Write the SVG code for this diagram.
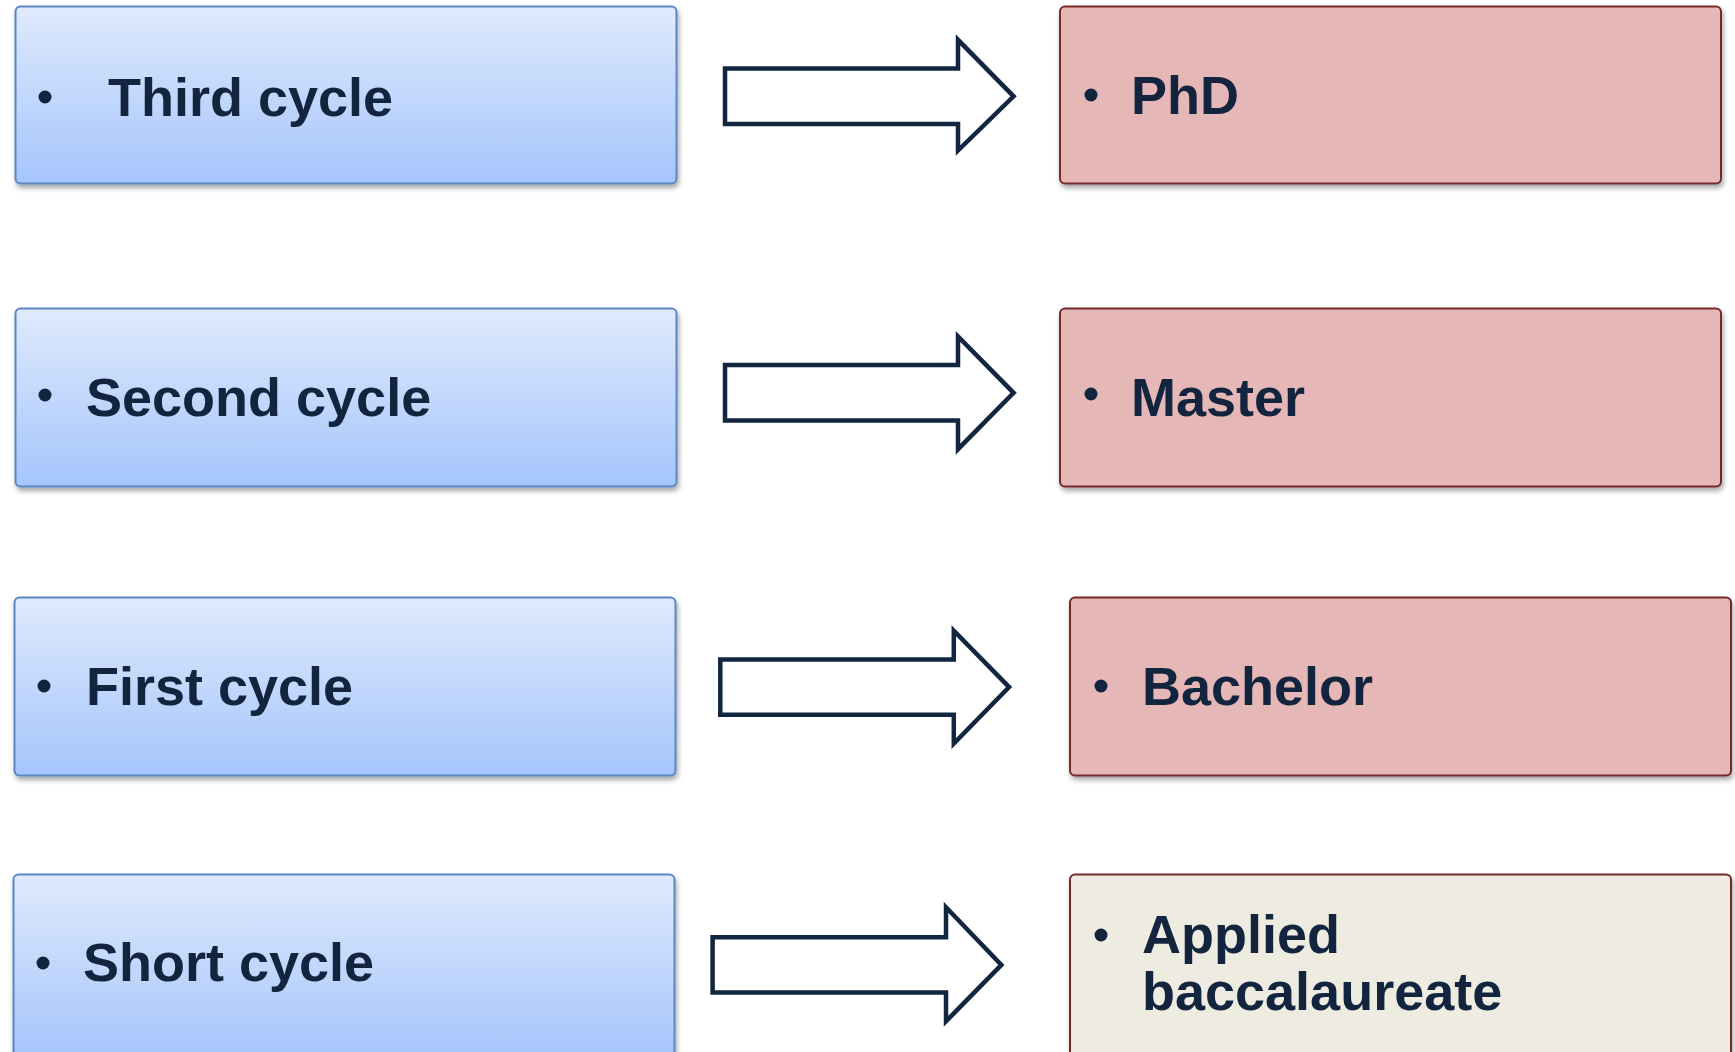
<svg xmlns="http://www.w3.org/2000/svg" width="1735" height="1052" viewBox="0 0 1735 1052">
<defs>
<linearGradient id="blueGrad" x1="0" y1="0" x2="0" y2="1">
<stop offset="0" stop-color="#dfeafd"/>
<stop offset="1" stop-color="#a5c5fb"/>
</linearGradient>
<filter id="shadow" x="-5%" y="-5%" width="110%" height="120%">
<feDropShadow dx="1.5" dy="3.5" stdDeviation="2.5" flood-color="#000" flood-opacity="0.35"/>
</filter>
</defs>
<style>
.lbox{fill:url(#blueGrad);stroke:#5a86c2;stroke-width:2;filter:url(#shadow)}
.rbox{fill:#e6b7b7;stroke:#74292b;stroke-width:2;filter:url(#shadow)}
.rbox2{fill:#eeebe0;stroke:#74292b;stroke-width:2;filter:url(#shadow)}
.t{font-family:"Liberation Sans",Arial,sans-serif;font-weight:bold;font-size:54px;fill:#13243f}
.b{fill:#13243f}
.arrow{fill:#ffffff;stroke:#13263f;stroke-width:4.5;stroke-linejoin:miter}
</style>
<rect width="1735" height="1052" fill="#ffffff"/>
<g id="third-cycle">
<rect class="lbox" x="15.5" y="6.5" width="661" height="177" rx="5"/>
<circle class="b" cx="45" cy="97" r="6.5"/>
<text class="t" x="108" y="116">Third cycle</text>
</g>
<g id="second-cycle">
<rect class="lbox" x="15.5" y="308.5" width="661" height="178" rx="5"/>
<circle class="b" cx="45" cy="395" r="6.5"/>
<text class="t" x="86" y="416">Second cycle</text>
</g>
<g id="first-cycle">
<rect class="lbox" x="14.5" y="597.5" width="661" height="178" rx="5"/>
<circle class="b" cx="44" cy="686" r="6.5"/>
<text class="t" x="86" y="705">First cycle</text>
</g>
<g id="short-cycle">
<rect class="lbox" x="13.5" y="874.5" width="661" height="182" rx="5"/>
<circle class="b" cx="43" cy="963" r="6.5"/>
<text class="t" x="83" y="981">Short cycle</text>
</g>
<g id="phd">
<rect class="rbox" x="1060" y="6.5" width="661" height="177" rx="5"/>
<circle class="b" cx="1091" cy="95" r="6.5"/>
<text class="t" x="1131" y="114">PhD</text>
</g>
<g id="master">
<rect class="rbox" x="1060" y="308.5" width="661" height="178" rx="5"/>
<circle class="b" cx="1091" cy="394" r="6.5"/>
<text class="t" x="1131" y="416">Master</text>
</g>
<g id="bachelor">
<rect class="rbox" x="1070" y="597.5" width="661" height="178" rx="5"/>
<circle class="b" cx="1101" cy="686" r="6.5"/>
<text class="t" x="1142" y="705">Bachelor</text>
</g>
<g id="applied-baccalaureate">
<rect class="rbox2" x="1070" y="874.5" width="661" height="182" rx="5"/>
<circle class="b" cx="1101" cy="935" r="6.5"/>
<text class="t" x="1142" y="953">Applied</text>
<text class="t" x="1142" y="1010">baccalaureate</text>
</g>
<g id="connectors">
<polygon class="arrow" points="725,68.6 958,68.6 958,39.8 1013.6,96.3 958,150.5 958,124 725,124"/>
<polygon class="arrow" points="725,365 958,365 958,336.4 1013.6,392.8 958,449.2 958,420.5 725,420.5"/>
<polygon class="arrow" points="720.3,659.5 953.8,659.5 953.8,630.7 1009.1,687.1 953.8,743.6 953.8,714.8 720.3,714.8"/>
<polygon class="arrow" points="712.6,937.2 946,937.2 946,907.3 1001.4,964.9 946,1021.3 946,992.5 712.6,992.5"/>
</g>
</svg>
